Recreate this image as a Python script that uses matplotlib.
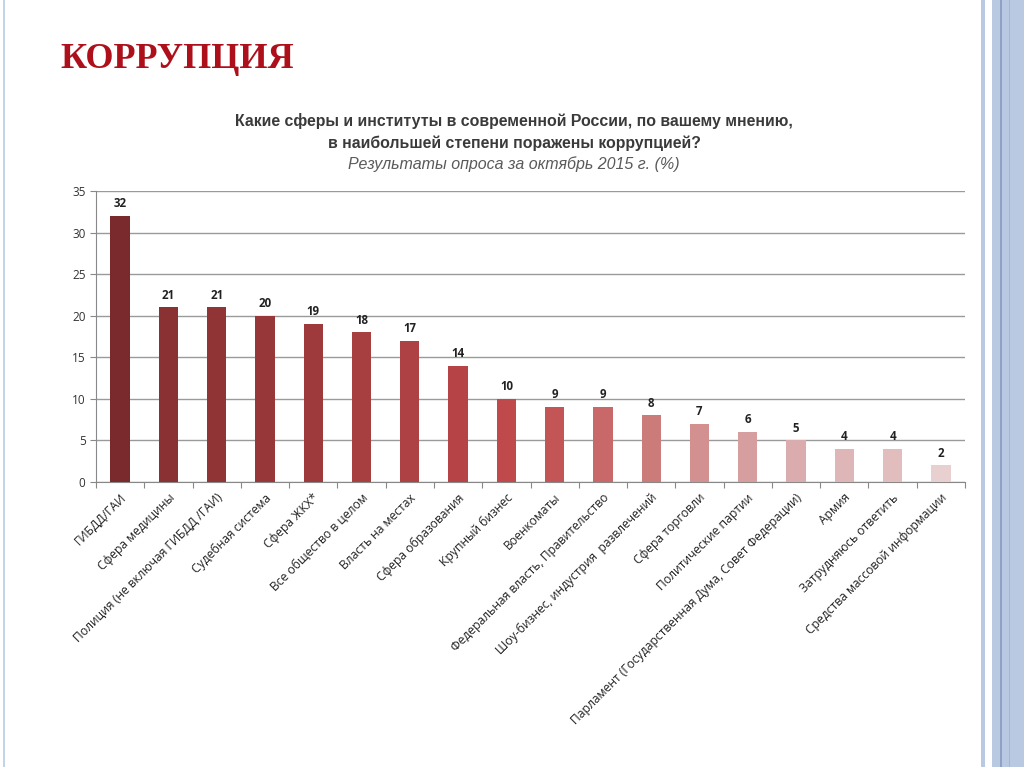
import matplotlib.pyplot as plt
from matplotlib.patches import Rectangle

categories = [
    "ГИБДД/ГАИ",
    "Сфера медицины",
    "Полиция (не включая ГИБДД /ГАИ)",
    "Судебная система",
    "Сфера ЖКХ*",
    "Все общество в целом",
    "Власть на местах",
    "Сфера образования",
    "Крупный бизнес",
    "Военкоматы",
    "Федеральная власть, Правительство",
    "Шоу-бизнес, индустрия  развлечений",
    "Сфера торговли",
    "Политические партии",
    "Парламент (Государственная Дума, Совет Федерации)",
    "Армия",
    "Затрудняюсь ответить",
    "Средства массовой информации",
]
values = [32, 21, 21, 20, 19, 18, 17, 14, 10, 9, 9, 8, 7, 6, 5, 4, 4, 2]
bar_colors = [
    "#7a2a2c", "#8a3134", "#913436", "#983739", "#9f3a3c", "#a73e40",
    "#ae4143", "#b64446", "#c04a4b", "#c45556", "#c86868", "#cc7b7b",
    "#d29091", "#d69e9f", "#dbacad", "#deb6b7", "#e1bdbe", "#e8d0d1",
]
y_ticks = [0, 5, 10, 15, 20, 25, 30, 35]

plt.rcParams["font.family"] = ["Open Sans", "DejaVu Sans"]

fig = plt.figure(figsize=(10.24, 7.67), dpi=100)
fig.patch.set_facecolor("white")

# slide decorations
fig.add_artist(Rectangle((981 / 1024, 0), 4 / 1024, 1, transform=fig.transFigure,
                         color="#b9c9e2", lw=0))
fig.add_artist(Rectangle((992 / 1024, 0), 32 / 1024, 1, transform=fig.transFigure,
                         color="#b9c9e2", lw=0))
fig.add_artist(Rectangle((1000 / 1024, 0), 1.5 / 1024, 1, transform=fig.transFigure,
                         color="#8da3c6", lw=0))
fig.add_artist(Rectangle((1008.5 / 1024, 0), 1.5 / 1024, 1, transform=fig.transFigure,
                         color="#a3b6d6", lw=0))
fig.add_artist(Rectangle((3 / 1024, 0), 2 / 1024, 1, transform=fig.transFigure,
                         color="#c5d3e8", lw=0))

fig.text(60 / 1024, 1 - 59 / 767, "КОРРУПЦИЯ", fontsize=26, fontweight="bold",
         family="Liberation Serif", color="#ad101b", va="center", ha="left")

fig.text(514 / 1024, 1 - 121 / 767, "Какие сферы и институты в современной России, по вашему мнению,",
         fontsize=11.4, fontweight="bold", color="#3a3a3a", ha="center", va="center",
         family="Liberation Sans")
fig.text(514 / 1024, 1 - 143 / 767, "в наибольшей степени поражены коррупцией?",
         fontsize=11.4, fontweight="bold", color="#3a3a3a", ha="center", va="center",
         family="Liberation Sans")
fig.text(514 / 1024, 1 - 164 / 767, "Результаты опроса за октябрь 2015 г. (%)",
         fontsize=11.5, style="italic", color="#5a5a5a", ha="center", va="center",
         family="Liberation Sans")

ax = fig.add_axes([96 / 1024, 285 / 767, 869 / 1024, 291 / 767])
x = list(range(len(categories)))
bars = ax.bar(x, values, width=0.4, color=bar_colors, zorder=3)
for xi, v in zip(x, values):
    ax.text(xi, v + 0.7, str(v), ha="center", va="bottom", fontsize=8.3,
            fontweight="bold", color="#222222")

ax.set_xlim(-0.5, len(categories) - 0.5)
ax.set_ylim(0, 35)
ax.set_yticks(y_ticks)
ax.tick_params(axis="y", labelsize=8.5, colors="#333333", length=4, color="#888888")
ax.grid(axis="y", color="#9a9a9a", lw=1, zorder=0)
ax.set_xticks([i - 0.5 for i in range(len(categories) + 1)])
ax.set_xticklabels([])
ax.tick_params(axis="x", length=4, color="#888888")
for s in ["top", "right"]:
    ax.spines[s].set_visible(False)
for s in ["left", "bottom"]:
    ax.spines[s].set_color("#888888")

for xi, name in zip(x, categories):
    ax.annotate(name, xy=(xi, 0), xytext=(3, -10), textcoords="offset points",
                rotation=45, ha="right", va="center", rotation_mode="anchor",
                fontsize=8.7, color="#222222")

fig.savefig("out.png", dpi=100)
